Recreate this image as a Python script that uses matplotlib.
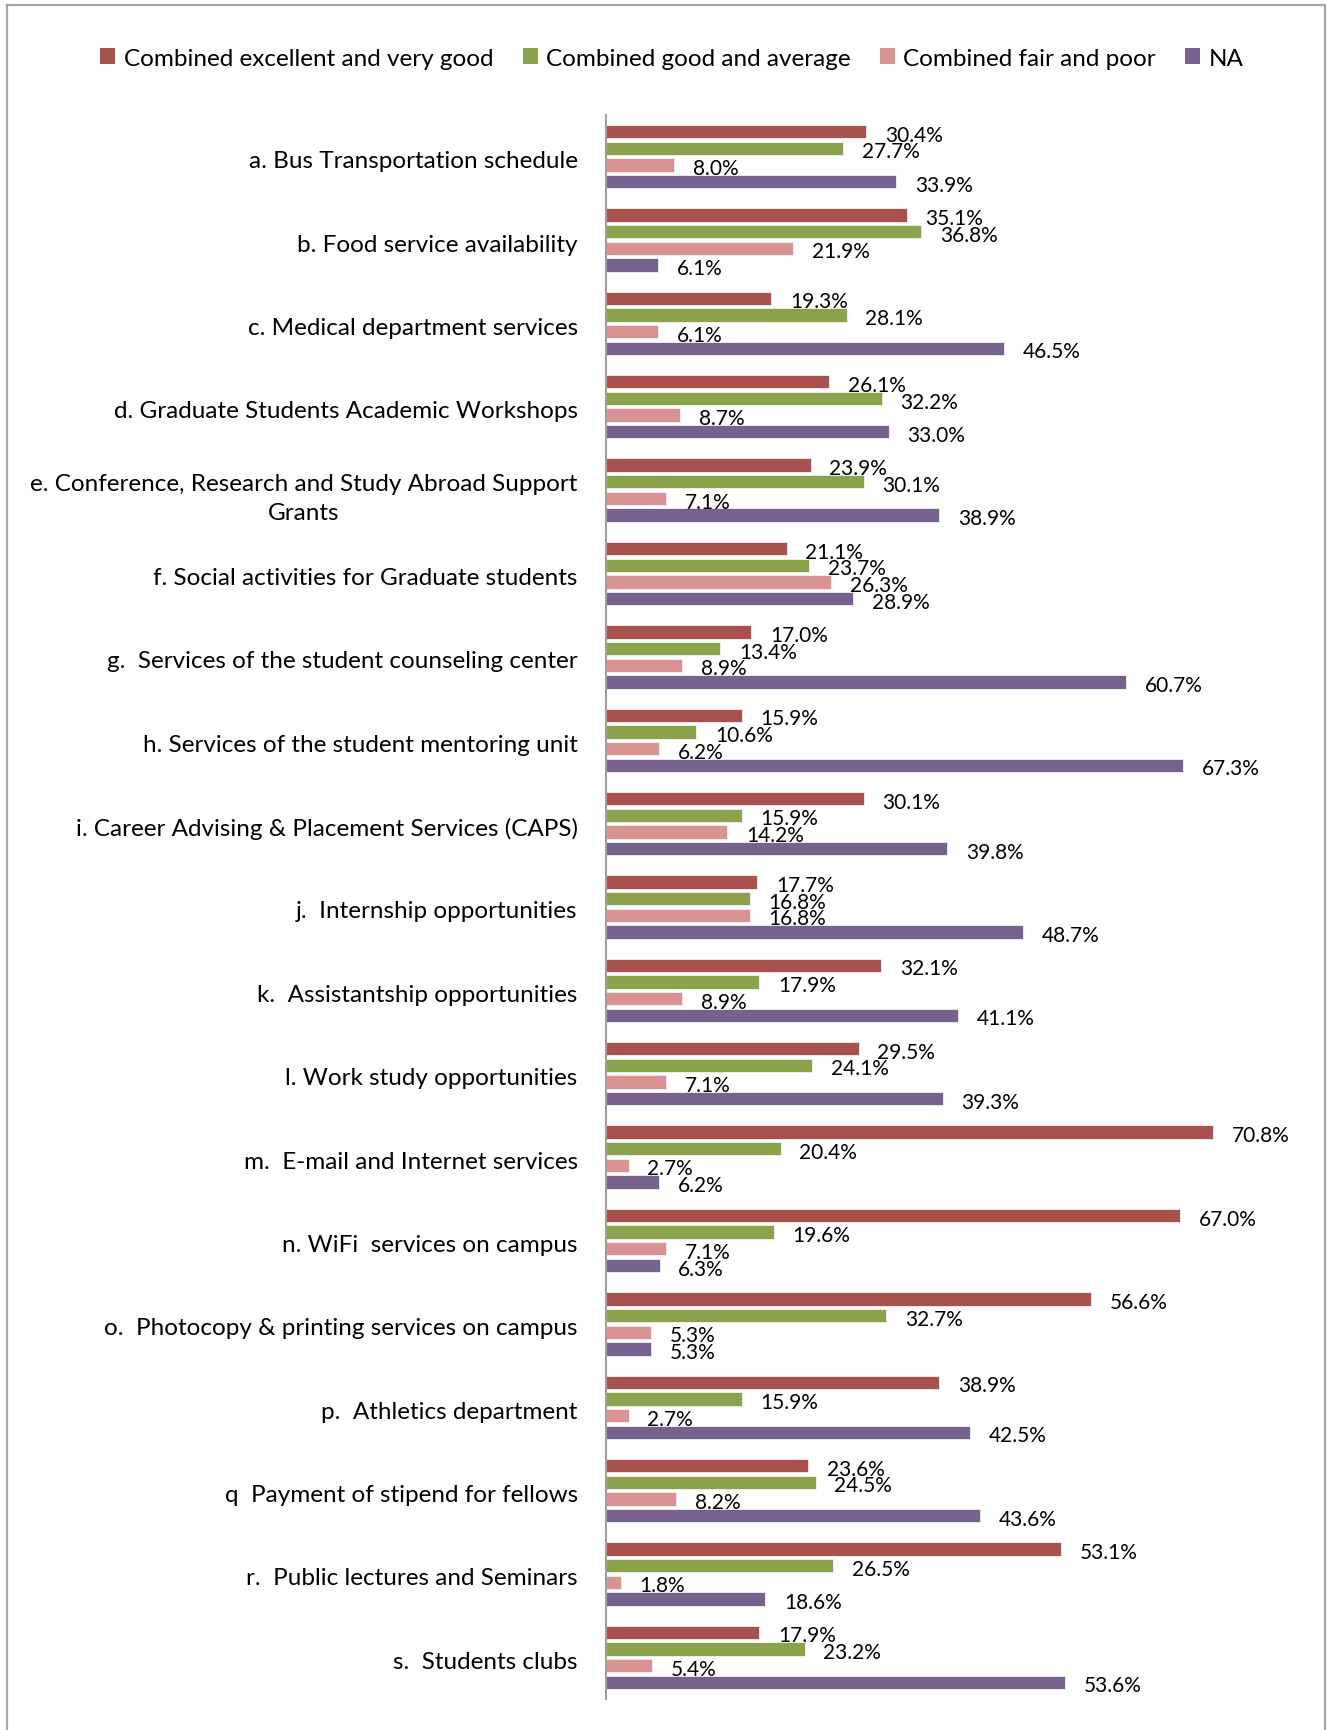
import matplotlib
matplotlib.use("Agg")
import matplotlib.pyplot as plt
import matplotlib.transforms as mtransforms
from matplotlib.lines import Line2D
from matplotlib.patches import Patch
import numpy as np

plt.rcParams['font.family'] = ['Lato', 'DejaVu Sans']

categories = [
    "a. Bus Transportation schedule",
    "b. Food service availability",
    "c. Medical department services",
    "d. Graduate Students Academic Workshops",
    "e. Conference, Research and Study Abroad Support\nGrants",
    "f. Social activities for Graduate students",
    "g.  Services of the student counseling center",
    "h. Services of the student mentoring unit",
    "i. Career Advising & Placement Services (CAPS)",
    "j.  Internship opportunities",
    "k.  Assistantship opportunities",
    "l. Work study opportunities",
    "m.  E-mail and Internet services",
    "n. WiFi  services on campus",
    "o.  Photocopy & printing services on campus",
    "p.  Athletics department",
    "q  Payment of stipend for fellows",
    "r.  Public lectures and Seminars",
    "s.  Students clubs",
]

excellent_very_good = [30.4, 35.1, 19.3, 26.1, 23.9, 21.1, 17.0, 15.9, 30.1, 17.7,
                       32.1, 29.5, 70.8, 67.0, 56.6, 38.9, 23.6, 53.1, 17.9]
good_average = [27.7, 36.8, 28.1, 32.2, 30.1, 23.7, 13.4, 10.6, 15.9, 16.8,
                17.9, 24.1, 20.4, 19.6, 32.7, 15.9, 24.5, 26.5, 23.2]
fair_poor = [8.0, 21.9, 6.1, 8.7, 7.1, 26.3, 8.9, 6.2, 14.2, 16.8,
             8.9, 7.1, 2.7, 7.1, 5.3, 2.7, 8.2, 1.8, 5.4]
not_applicable = [33.9, 6.1, 46.5, 33.0, 38.9, 28.9, 60.7, 67.3, 39.8, 48.7,
                  41.1, 39.3, 6.2, 6.3, 5.3, 42.5, 43.6, 18.6, 53.6]

series_names = ["Combined excellent and very good", "Combined good and average",
                "Combined fair and poor", "NA"]
series_values = [excellent_very_good, good_average, fair_poor, not_applicable]
colors = ["#A9514D", "#8AA24B", "#D99392", "#76618F"]

W, H = 1328, 1731
fig = plt.figure(figsize=(W / 100, H / 100), dpi=100)
ax = fig.add_axes([605.5 / W, 1 - 1700 / H, 686.4 / W, 1584 / H])

n = len(categories)
y = np.arange(n)
slot = 0.2
bar_h = 0.16
for i, (name, vals, c) in enumerate(zip(series_names, series_values, colors)):
    ypos = y + (i - 1.5) * slot
    ax.barh(ypos, vals, height=bar_h, color=c, edgecolor='#F2F2F2',
            linewidth=0.6, label=name)
    for yy, v in zip(ypos, vals):
        ax.annotate(f"{v:.1f}%", xy=(v, yy), xytext=(13.5, -2.2),
                    textcoords='offset points', ha='left', va='center',
                    fontsize=15, color='black')

ax.set_xlim(0, 80)
ax.set_ylim(n - 0.5, -0.5)
ax.set_yticks(y)
ax.set_yticklabels(categories, fontsize=17.5, ha='right',
                   multialignment='center', linespacing=1.45)
ax.tick_params(axis='y', length=0, pad=20)
shift = mtransforms.ScaledTranslation(0, -2 / 100, fig.dpi_scale_trans)
for lbl in ax.get_yticklabels():
    lbl.set_transform(lbl.get_transform() + shift)
ax.set_xticks([])
for side in ['top', 'right', 'bottom']:
    ax.spines[side].set_visible(False)
ax.spines['left'].set_color('#A0A0A0')
ax.spines['left'].set_linewidth(1.5)

handles = [Patch(facecolor=c, edgecolor='none') for c in colors]
fig.legend(handles, series_names, loc='center', bbox_to_anchor=(672 / W, 1 - 59 / H),
           ncol=4, frameon=False, fontsize=17.5, handlelength=0.62, handleheight=0.62,
           handletextpad=0.35, columnspacing=1.2)

# outer chart frame
frame_kw = dict(color='#A6A6A6', linewidth=1.6, transform=fig.transFigure)
fig.add_artist(Line2D([7 / W, 7 / W], [0, 1 - 6 / H], **frame_kw))
fig.add_artist(Line2D([7 / W, 1325 / W], [1 - 6 / H, 1 - 6 / H], **frame_kw))
fig.add_artist(Line2D([1325 / W, 1325 / W], [0, 1 - 6 / H], **frame_kw))

fig.savefig("out.png", dpi=100)
